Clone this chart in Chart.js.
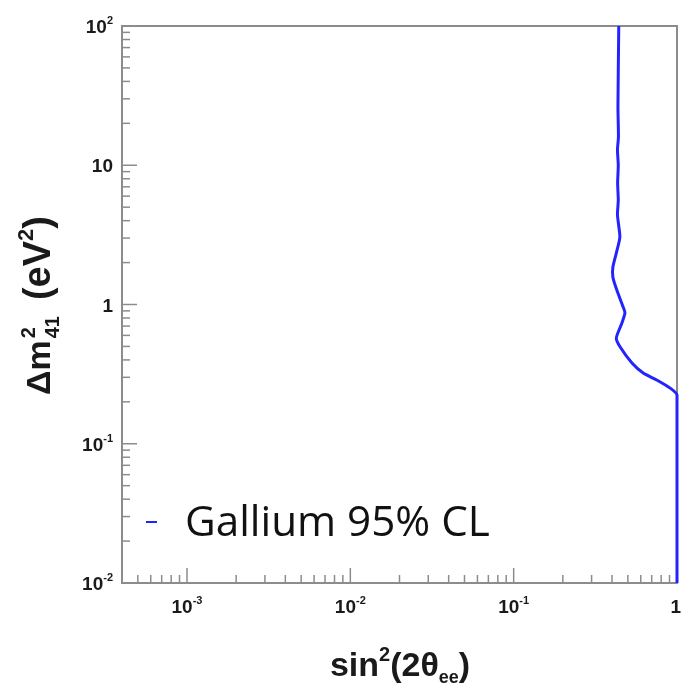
<!DOCTYPE html>
<html>
<head>
<meta charset="utf-8">
<script src="https://cdn.jsdelivr.net/npm/chart.js@4/dist/chart.umd.min.js"></script>
<style>
  html, body { margin: 0; padding: 0; background: #fff; }
  canvas { display: block; }
</style>
</head>
<body>
<canvas id="main-canvas" width="681" height="689"></canvas>
<script>
// contour: sin^2(2theta) vs dm^2 (eV^2)
const sin2Values = [0.440, 0.435, 0.438, 0.432, 0.437, 0.433, 0.437, 0.432, 0.447, 0.425, 0.405, 0.405, 0.428, 0.468, 0.480, 0.460, 0.425, 0.449, 0.530, 0.621, 0.751, 0.908, 1.0, 1.0];
const dm2Values  = [100, 26.2, 16.0, 12.9, 10.0, 7.46, 5.62, 4.39, 3.05, 2.34, 1.86, 1.57, 1.27, 0.96, 0.87, 0.736, 0.574, 0.495, 0.380, 0.322, 0.287, 0.251, 0.224, 0.01];

const xTickValues = [1e-3, 1e-2, 1e-1, 1];
const xTickLabels = [['10', '-3'], ['10', '-2'], ['10', '-1'], ['1', '']];
const yTickValues = [1e-2, 1e-1, 1, 10, 100];
const yTickLabels = [['10', '-2'], ['10', '-1'], ['1', ''], ['10', ''], ['10', '2']];

const seriesLabel = 'Gallium 95% CL';
const lineColor = 'rgb(35, 35, 255)';
const frameColor = '#8c8c8c';

const points = sin2Values.map((v, i) => ({ x: v, y: dm2Values[i] }));

// pieces are [text, fontSize, yShift]
function runWidth(ctx, parts, weight, family) {
    let w = 0;
    parts.forEach(p => {
        ctx.font = `${weight} ${p[1]}px ${family}`;
        w += ctx.measureText(p[0]).width;
    });
    return w;
}
function drawRun(ctx, parts, x, y, weight, family) {
    ctx.textAlign = 'left';
    ctx.textBaseline = 'alphabetic';
    parts.forEach(p => {
        ctx.font = `${weight} ${p[1]}px ${family}`;
        ctx.fillText(p[0], x, y + p[2]);
        x += ctx.measureText(p[0]).width;
    });
}

const framePlugin = {
    id: 'frame',
    beforeDatasetsDraw: chart => {
        const ctx = chart.ctx;
        const area = chart.chartArea;
        const xs = chart.scales.x, ys = chart.scales.y;
        ctx.save();
        ctx.strokeStyle = frameColor;
        ctx.lineWidth = 2;
        ctx.strokeRect(area.left, area.top, area.right - area.left, area.bottom - area.top);

        // inward ticks
        ctx.lineWidth = 1.5;
        for (let d = -4; d <= 0; d++) {
            for (let k = 1; k <= 9; k++) {
                const v = k * Math.pow(10, d);
                if (v < xs.min * 0.999 || v > xs.max * 1.001) continue;
                const px = xs.getPixelForValue(v);
                const len = k === 1 ? 15 : 8;
                ctx.beginPath();
                ctx.moveTo(px, area.bottom);
                ctx.lineTo(px, area.bottom - len);
                ctx.stroke();
            }
        }
        for (let d = -2; d <= 2; d++) {
            for (let k = 1; k <= 9; k++) {
                const v = k * Math.pow(10, d);
                if (v < ys.min * 0.999 || v > ys.max * 1.001) continue;
                const py = ys.getPixelForValue(v);
                const len = k === 1 ? 15 : 8;
                ctx.beginPath();
                ctx.moveTo(area.left, py);
                ctx.lineTo(area.left + len, py);
                ctx.stroke();
            }
        }
        ctx.restore();
    }
};

const textPlugin = {
    id: 'texts',
    afterDraw: chart => {
        const ctx = chart.ctx;
        const area = chart.chartArea;
        const xs = chart.scales.x, ys = chart.scales.y;
        const fam = '"Liberation Sans", Arial, sans-serif';
        ctx.save();
        ctx.fillStyle = '#1a1a1a';

        // tick labels
        xTickValues.forEach((v, i) => {
            const lab = xTickLabels[i];
            const parts = [[lab[0], 19, 0], [lab[1], 11, -9]];
            const w = runWidth(ctx, parts, 'bold', fam);
            let px = xs.getPixelForValue(v) - w / 2;
            if (px + w > 681) px = 681 - w;
            drawRun(ctx, parts, px, area.bottom + 30, 'bold', fam);
        });
        yTickValues.forEach((v, i) => {
            const lab = yTickLabels[i];
            const parts = [[lab[0], 19, 0], [lab[1], 11, -9]];
            const w = runWidth(ctx, parts, 'bold', fam);
            drawRun(ctx, parts, area.left - 9 - w, ys.getPixelForValue(v) + 7, 'bold', fam);
        });

        // x title
        const xt = [['sin', 34, 0], ['2', 20, -15], ['(2\u03b8', 34, 0], ['ee', 18, 7], [')', 34, 0]];
        const xw = runWidth(ctx, xt, 'bold', fam);
        drawRun(ctx, xt, 400 - xw / 2, 676, 'bold', fam);

        // y title, rotated
        ctx.save();
        ctx.translate(50, 395);
        ctx.rotate(-Math.PI / 2);
        let x0 = 0;
        ctx.font = `bold 34px ${fam}`;
        ctx.textAlign = 'left';
        ctx.textBaseline = 'alphabetic';
        ctx.fillText('\u0394m', x0, 0);
        x0 += ctx.measureText('\u0394m').width + 2;
        ctx.font = `bold 20px ${fam}`;
        ctx.fillText('2', x0, -15);
        ctx.fillText('41', x0, 9);
        x0 += ctx.measureText('41').width + 16;
        drawRun(ctx, [['(eV', 38, 0], ['2', 22, -17], [')', 38, 0]], x0, 0, 'bold', fam);
        ctx.restore();

        // legend
        ctx.strokeStyle = lineColor;
        ctx.lineWidth = 2;
        ctx.beginPath();
        ctx.moveTo(146, 522);
        ctx.lineTo(157, 522);
        ctx.stroke();
        ctx.fillStyle = '#111';
        let fs = 30;
        ctx.font = `${fs}px "Open Sans", sans-serif`;
        fs = fs * 305 / ctx.measureText(seriesLabel).width;
        ctx.font = `${fs}px "Open Sans", sans-serif`;
        ctx.textAlign = 'left';
        ctx.textBaseline = 'alphabetic';
        ctx.fillText(seriesLabel, 185, 536);

        ctx.restore();
    }
};

const myChart = new Chart(document.getElementById('main-canvas').getContext('2d'), {
    type: 'scatter',
    plugins: [framePlugin, textPlugin],
    data: {
        datasets: [{
            label: seriesLabel,
            data: points,
            showLine: true,
            borderColor: lineColor,
            borderWidth: 3,
            pointRadius: 0,
            tension: 0.2,
            clip: false
        }]
    },
    options: {
        responsive: false,
        animation: false,
        layout: { padding: { left: 114, right: 4, top: 26, bottom: 98 } },
        plugins: {
            legend: { display: false },
            tooltip: { enabled: false }
        },
        scales: {
            x: {
                type: 'logarithmic',
                min: 4e-4,
                max: 1,
                ticks: { display: false },
                grid: { display: false },
                border: { display: false }
            },
            y: {
                type: 'logarithmic',
                min: 0.01,
                max: 100,
                ticks: { display: false },
                grid: { display: false },
                border: { display: false }
            }
        }
    }
});
</script>
</body>
</html>
